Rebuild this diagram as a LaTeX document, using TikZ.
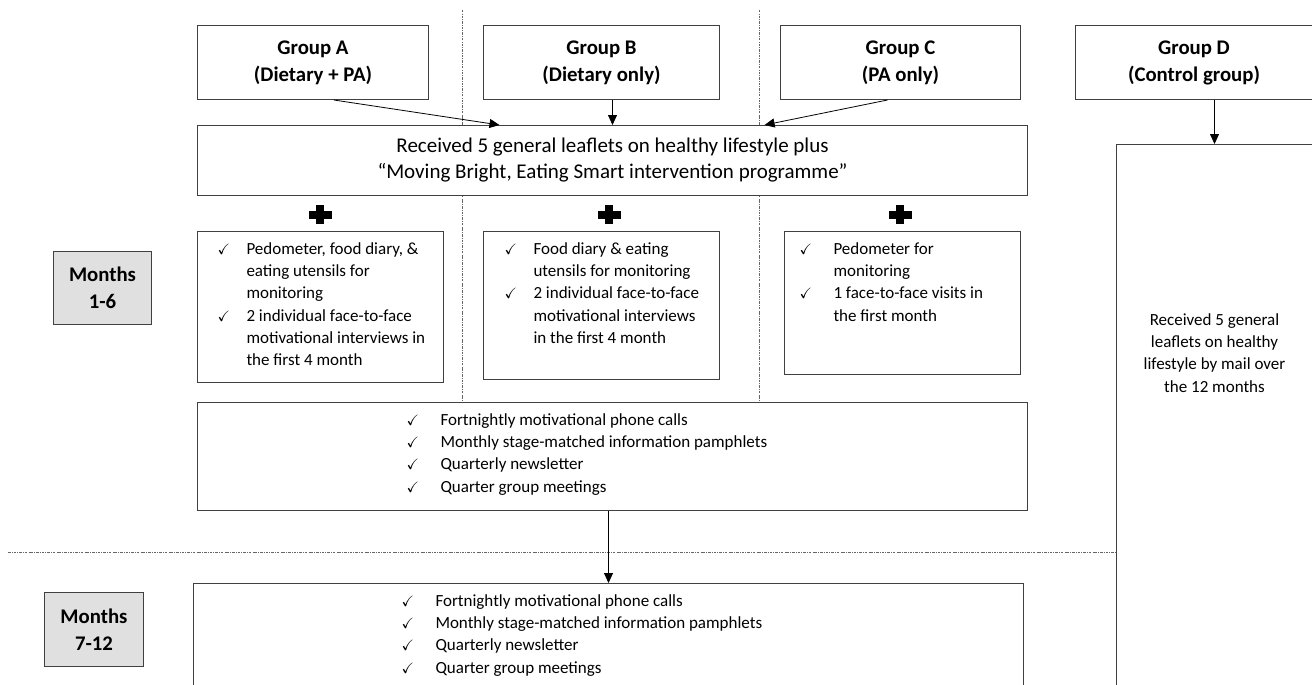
\documentclass[tikz,border=0pt]{standalone}
\usepackage{amssymb}
\usepackage{fontspec}
\setmainfont{Carlito}
\usetikzlibrary{arrows.meta}
\usetikzlibrary{calc}

\newcommand{\grpfont}{\fontsize{20.8}{27}\selectfont\bfseries}
\newcommand{\leafletfont}{\fontsize{21}{26}\selectfont}
\newcommand{\listfont}{\fontsize{17}{22.3}\selectfont}
\newcommand{\tick}{{\fontsize{15}{15}\selectfont$\checkmark$}}
% ticked rows: #1 tick column, #2 rows
\newcommand{\ticklist}[2]{\begin{tabular}[t]{@{}p{#1}@{}l@{}}#2\end{tabular}}
% top aligned box content: #1 width, #2 height, #3 left gap, #4 content
\newcommand{\topbox}[4]{\parbox[c][#2][t]{#1}{\vspace*{7pt}\hspace*{#3}#4}}

\begin{document}
\begin{tikzpicture}[x=1pt, y=-1pt,
    grpbox/.style={draw=black!75, line width=1pt, fill=white, inner sep=0pt, anchor=north west, align=center, font=\grpfont, minimum height=74pt},
    plainbox/.style={draw=black!75, line width=1pt, fill=white, inner sep=0pt, anchor=north west, font=\listfont},
    monthbox/.style={draw=black!75, line width=1pt, fill=black!12, inner sep=0pt, anchor=north west, align=center, font=\grpfont},
    phase/.style={black!60, line width=0.6pt, dash pattern=on 2.5pt off 1.2pt on 0.7pt off 1.2pt},
    arr/.style={-{Triangle[length=10pt,width=9pt]}, line width=0.8pt}]
    % Page frame (the picture is cut at the right and bottom)
    \useasboundingbox (0,0) rectangle (1312,685);
    \clip (0,0) rectangle (1312,685);

    % Dash-dot separators between groups and between the two periods
    \draw[phase] (462,10) -- (462,402);
    \draw[phase] (759,10) -- (759,402);
    \draw[phase] (8,552) -- (1116,552);

    % Groups
    \node[grpbox, minimum width=231pt] (grpA) at (197,25) {Group A\\(Dietary + PA)};
    \node[grpbox, minimum width=236pt] (grpB) at (483,25) {Group B\\(Dietary only)};
    \node[grpbox, minimum width=240pt] (grpC) at (780,25) {Group C\\(PA only)};
    \node[grpbox, minimum width=237pt] (grpD) at (1075,25) {Group D\\(Control group)};

    % Common leaflets
    \node[grpbox, font=\leafletfont, minimum width=830pt, minimum height=70pt] (leaflet) at (197,125)
        {Received 5 general leaflets on healthy lifestyle plus\\“Moving Bright, Eating Smart intervention programme”};

    % Plus signs
    \foreach \px in {320,609,900} {
        \fill (\px-11.5,210.5) rectangle (\px+11.5,218.5);
        \fill (\px-4,205) rectangle (\px+4,224);
    }

    % Period labels
    \node[monthbox, minimum width=98pt, minimum height=73pt] (early) at (53,251) {Months\\1-6};
    \node[monthbox, minimum width=99pt, minimum height=74pt] (late) at (44,592) {Months\\7-12};

    % Group specific parts
    \node[plainbox] (listA) at (197,231) {\topbox{246pt}{151pt}{20pt}{\ticklist{29pt}{
        \tick & Pedometer, food diary, \& \\ & eating utensils for \\ & monitoring \\
        \tick & 2 individual face-to-face \\ & motivational interviews in \\ & the first 4 month}}};
    \node[plainbox] (listB) at (483,231) {\topbox{236pt}{148pt}{21pt}{\ticklist{29pt}{
        \tick & Food diary \& eating \\ & utensils for monitoring \\
        \tick & 2 individual face-to-face \\ & motivational interviews \\ & in the first 4 month}}};
    \node[plainbox] (listC) at (784,231) {\topbox{236pt}{143pt}{15pt}{\ticklist{34pt}{
        \tick & Pedometer for \\ & monitoring \\
        \tick & 1 face-to-face visits in \\ & the first month}}};

    % Shared follow-up
    \node[plainbox] (common) at (197,402) {\topbox{830pt}{108pt}{209pt}{\ticklist{34pt}{
        \tick & Fortnightly motivational phone calls \\
        \tick & Monthly stage-matched information pamphlets \\
        \tick & Quarterly newsletter \\
        \tick & Quarter group meetings}}};
    \node[plainbox] (later) at (193,583) {\topbox{830pt}{120pt}{208pt}{\ticklist{34pt}{
        \tick & Fortnightly motivational phone calls \\
        \tick & Monthly stage-matched information pamphlets \\
        \tick & Quarterly newsletter \\
        \tick & Quarter group meetings}}};

    % Control group
    \node[plainbox] (ctrl) at (1116,144) {\parbox[c][560pt][t]{196pt}{\centering\vspace*{165pt}%
        \strut Received 5 general\\leaflets on healthy\\lifestyle by mail over\\the 12 months}};

    % Connectors
    \draw[arr] ($(grpA.south west)!0.59!(grpA.south east)$) -- ($(leaflet.north west)!0.364!(leaflet.north east)$);
    \draw[arr] (leaflet.north |- grpB.south) -- (leaflet.north);
    \draw[arr] ($(grpC.south west)!0.446!(grpC.south east)$) -- ($(leaflet.north west)!0.683!(leaflet.north east)$);
    \draw[arr] (ctrl.north |- grpD.south) -- (ctrl.north);
    \draw[arr] (later.north |- common.south) -- (later.north);
\end{tikzpicture}
\end{document}
